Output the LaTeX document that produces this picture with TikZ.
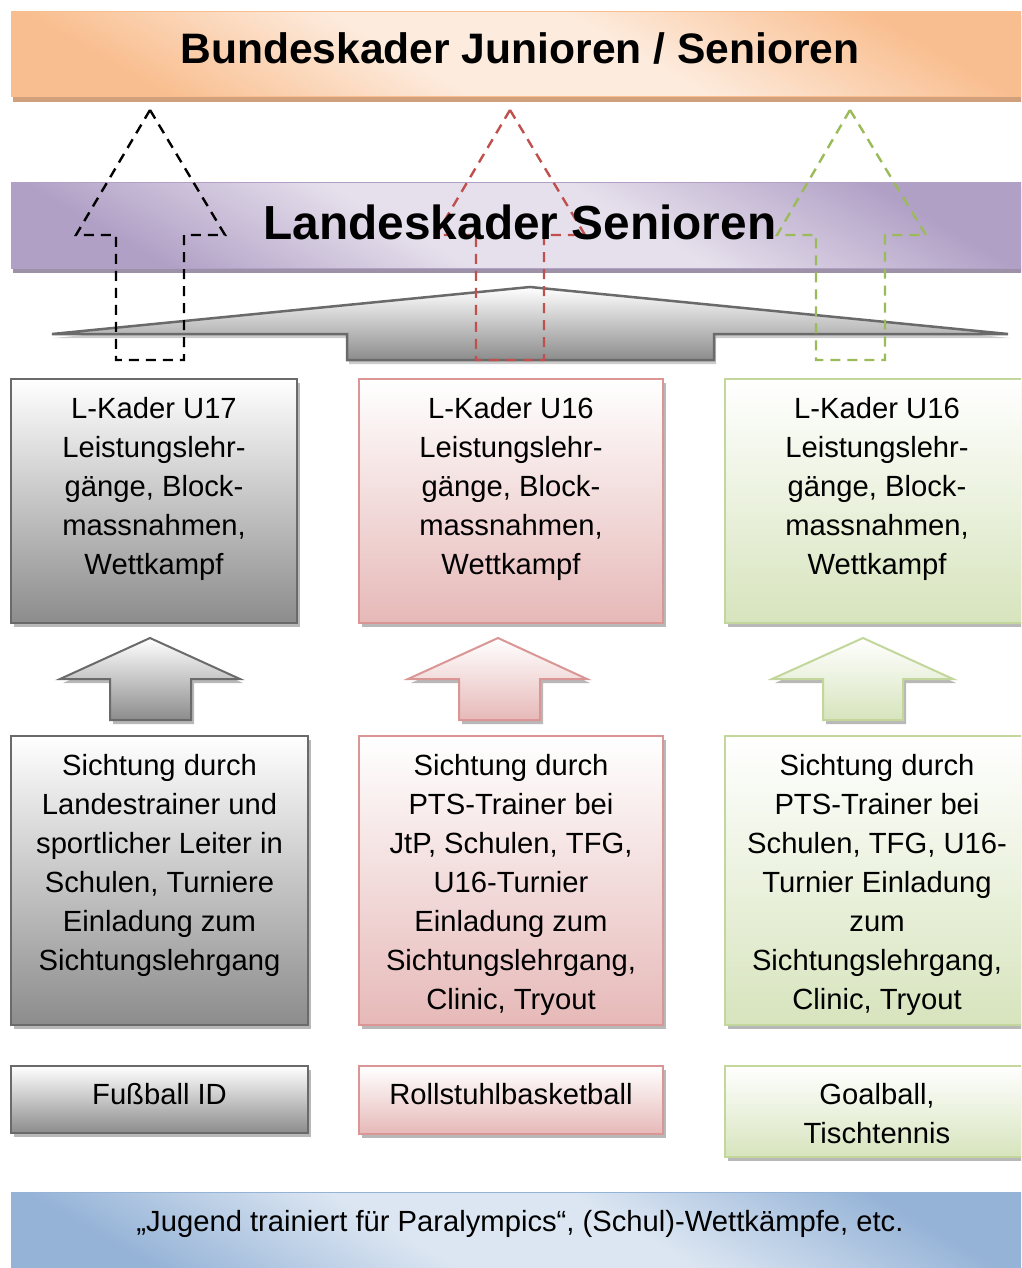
\documentclass[tikz,border=0pt]{standalone}
\usepackage{fontspec}
\setmainfont{Liberation Sans}
\usetikzlibrary{shadows}
\definecolor{orangeDark}{HTML}{F9BE8F}
\definecolor{orangeLight}{HTML}{FDEBDD}
\definecolor{orangeShadow}{HTML}{D0A07C}
\definecolor{purpleDark}{HTML}{B1A0C6}
\definecolor{purpleLight}{HTML}{E6E0EC}
\definecolor{purpleShadow}{HTML}{9C91A6}
\definecolor{blueDark}{HTML}{95B3D7}
\definecolor{blueLight}{HTML}{DCE6F2}
\definecolor{grayStroke}{HTML}{6A6A6A}
\definecolor{grayBottom}{HTML}{8C8C8C}
\definecolor{pinkStroke}{HTML}{D99694}
\definecolor{pinkBottom}{HTML}{E6B9B8}
\definecolor{greenStroke}{HTML}{C3D69B}
\definecolor{greenBottom}{HTML}{D7E4BD}
\definecolor{dashRed}{HTML}{C0504D}
\definecolor{dashGreen}{HTML}{9BBB59}
\pgfdeclareverticalshading{orangeshade}{100bp}{color(0bp)=(orangeDark); color(25bp)=(orangeDark); color(43bp)=(orangeLight); color(57bp)=(orangeLight); color(75bp)=(orangeDark); color(100bp)=(orangeDark)}
\pgfdeclareverticalshading{purpleshade}{100bp}{color(0bp)=(purpleDark); color(25bp)=(purpleDark); color(43bp)=(purpleLight); color(57bp)=(purpleLight); color(75bp)=(purpleDark); color(100bp)=(purpleDark)}
\pgfdeclareverticalshading{blueshade}{100bp}{color(0bp)=(blueDark); color(25bp)=(blueDark); color(43bp)=(blueLight); color(57bp)=(blueLight); color(75bp)=(blueDark); color(100bp)=(blueDark)}
\begin{document}
\begin{tikzpicture}[x=1pt,y=-1pt,
  every node/.style={inner sep=0pt,outer sep=0pt},
  txt/.style={font=\fontsize{29.2}{39}\selectfont,align=center},
  sh/.style={general shadow={fill=black,opacity=0.28,shadow xshift=3pt,shadow yshift=-4pt}},
  gbox/.style={draw=grayStroke,line width=2pt,top color=white,bottom color=grayBottom,sh},
  pbox/.style={draw=pinkStroke,line width=2pt,top color=white,bottom color=pinkBottom,sh},
  cbox/.style={draw=greenStroke,line width=2pt,top color=white,bottom color=greenBottom,sh},
  diagbar/.style 2 args={draw=#1,line width=1pt,shading=#2,shading angle=-30},
  dasharrow/.style={draw=#1,line width=2.4pt,dash pattern=on 10pt off 7pt,line join=miter}
]
\useasboundingbox (0,0) rectangle (1021,1268);
\clip (0,0) rectangle (1021,1268);
\fill[white] (0,0) rectangle (1021,1268);

% top bar
\node[diagbar={orangeDark}{orangeshade},general shadow={fill=orangeShadow,shadow xshift=2pt,shadow yshift=-5pt},
  minimum width=1018pt,minimum height=85pt] (bund) at (520,54.5) {};
\node[anchor=base,font=\fontsize{42.6}{50}\bfseries\selectfont] (tbund) at (520,63.5) {Bundeskader Junioren / Senioren};

% Landeskader bar
\node[diagbar={purpleDark}{purpleshade},general shadow={fill=purpleShadow,shadow xshift=2pt,shadow yshift=-5pt},
  minimum width=1018pt,minimum height=85pt] (lbar) at (520,225.5) {};

% big gray arrow
\path[general shadow={fill=black,opacity=0.2,shadow xshift=2pt,shadow yshift=-4pt},
  draw=grayStroke,line width=2.5pt,top color=white,bottom color=grayBottom,line join=miter]
  (52,334) -- (530,287) -- (1008,334) -- (714,334) -- (714,360) -- (347,360) -- (347,334) -- cycle;

% dashed arrows
\draw[dasharrow=black] (150,110) -- (225,235) -- (184,235) -- (184,360) -- (116,360) -- (116,235) -- (76,235) -- cycle;
\draw[dasharrow=dashRed] (510,110) -- (585,235) -- (544,235) -- (544,360) -- (476,360) -- (476,235) -- (436,235) -- cycle;
\draw[dasharrow=dashGreen] (850,110) -- (926,235) -- (885,235) -- (885,360) -- (816,360) -- (816,235) -- (777,235) -- cycle;

\node[anchor=base,font=\fontsize{47.8}{56}\bfseries\selectfont] (tland) at (520,239.5) {Landeskader Senioren};

% L-Kader boxes
\node[gbox,minimum width=286pt,minimum height=244pt] (lk1) at (154,501) {};
\node[pbox,minimum width=304pt,minimum height=244pt] (lk2) at (511,501) {};
\node[cbox,minimum width=304pt,minimum height=244pt] (lk3) at (877,501) {};
\node[txt,anchor=north] (tlk1) at (154,397.5) {L-Kader U17\\Leistungslehr-\\gänge, Block-\\massnahmen,\\Wettkampf};
\node[txt,anchor=north] (tlk2) at (511,397.5) {L-Kader U16\\Leistungslehr-\\gänge, Block-\\massnahmen,\\Wettkampf};
\node[txt,anchor=north] (tlk3) at (877,397.5) {L-Kader U16\\Leistungslehr-\\gänge, Block-\\massnahmen,\\Wettkampf};

% small arrows
\path[draw=grayStroke,line width=2pt,top color=white,bottom color=grayBottom,sh,line join=miter]
  (150,638) -- (240,679) -- (191,679) -- (191,720) -- (110,720) -- (110,679) -- (60,679) -- cycle;
\path[draw=pinkStroke,line width=2pt,top color=white,bottom color=pinkBottom,sh,line join=miter]
  (498,638) -- (587,679) -- (540,679) -- (540,720) -- (459,720) -- (459,679) -- (408,679) -- cycle;
\path[draw=greenStroke,line width=2pt,top color=white,bottom color=greenBottom,sh,line join=miter]
  (863,638) -- (953,679) -- (903,679) -- (903,720) -- (823,720) -- (823,679) -- (772,679) -- cycle;

% Sichtung boxes
\node[gbox,minimum width=297pt,minimum height=289pt] (s1) at (159.5,880.5) {};
\node[pbox,minimum width=304pt,minimum height=289pt] (s2) at (511,880.5) {};
\node[cbox,minimum width=304pt,minimum height=289pt] (s3) at (877,880.5) {};
\node[txt,anchor=north] (ts1) at (159.5,754.5) {Sichtung durch\\Landestrainer und\\sportlicher Leiter in\\Schulen, Turniere\\Einladung zum\\Sichtungslehrgang};
\node[txt,anchor=north] (ts2) at (511,754.5) {Sichtung durch\\PTS-Trainer bei\\JtP, Schulen, TFG,\\U16-Turnier\\Einladung zum\\Sichtungslehrgang,\\Clinic, Tryout};
\node[txt,anchor=north] (ts3) at (877,754.5) {Sichtung durch\\PTS-Trainer bei\\Schulen, TFG, U16-\\Turnier Einladung\\zum\\Sichtungslehrgang,\\Clinic, Tryout};

% sport boxes
\node[gbox,minimum width=297pt,minimum height=67pt] (fb) at (159.5,1099.5) {};
\node[pbox,minimum width=304pt,minimum height=68pt] (rb) at (511,1100) {};
\node[cbox,minimum width=304pt,minimum height=91pt] (gb) at (877,1111.5) {};
\node[txt,anchor=base] (tfb) at (159.5,1104.5) {Fußball ID};
\node[txt,anchor=base] (trb) at (511,1104.5) {Rollstuhlbasketball};
\node[txt,anchor=north] (tgb) at (877,1083.5) {Goalball,\\Tischtennis};

% bottom bar
\node[diagbar={blueDark}{blueshade},minimum width=1018pt,minimum height=84pt] (jbar) at (520,1234) {};
\node[txt,anchor=base] (tjbar) at (520,1231.5) {„Jugend trainiert für Paralympics“, (Schul)-Wettkämpfe, etc.};
\end{tikzpicture}
\end{document}
